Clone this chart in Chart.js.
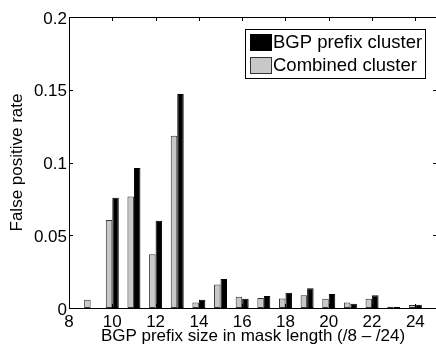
<!DOCTYPE html>
<html>
<head>
<meta charset="utf-8">
<script src="https://cdn.jsdelivr.net/npm/chart.js@4/dist/chart.umd.min.js"></script>
<style>
  html, body { margin: 0; padding: 0; background: #fff; }
  #wrap { width: 436px; height: 347px; overflow: hidden; }
  canvas { display: block; }
</style>
</head>
<body>
<div id="wrap"><canvas id="chart" width="441" height="347"></canvas></div>
<script>
// mask lengths (/9 .. /24)
var maskSizes = [9, 10, 11, 12, 13, 14, 15, 16, 17, 18, 19, 20, 21, 22, 23, 24];
var combinedRate = [0.0057, 0.0604, 0.0767, 0.037, 0.1183, 0.0037, 0.0162, 0.0078,
                    0.0069, 0.0066, 0.0087, 0.0064, 0.0037, 0.0064, 0.0009, 0.002];
var bgpRate = [null, 0.0757, 0.0963, 0.060, 0.147, 0.0057, 0.0199, 0.0064,
               0.0082, 0.0105, 0.0135, 0.0096, 0.003, 0.0087, 0.0007, 0.0023];
var xTicks = [8, 10, 12, 14, 16, 18, 20, 22, 24];
var yTicks = [0, 0.05, 0.1, 0.15, 0.2];
var yTickLabels = ['0', '0.05', '0.1', '0.15', '0.2'];

var FONT = '"Liberation Sans", Arial, Helvetica, sans-serif';

function points(vals) {
    return maskSizes.map(function (s, i) { return { x: s, y: vals[i] }; });
}

// box around the axes with short inward ticks on all four sides
var frame = {
    id: 'frame',
    afterDatasetsDraw: function (chart) {
        var c = chart.ctx, a = chart.chartArea;
        var xs = chart.scales.x, ys = chart.scales.y;
        var len = 4;
        c.save();
        c.strokeStyle = '#000';
        c.lineWidth = 1;
        c.beginPath();
        c.rect(Math.round(a.left) + 0.5, Math.round(a.top) + 0.5,
               Math.round(a.right - a.left), Math.round(a.bottom - a.top));
        xTicks.forEach(function (v) {
            var px = Math.round(xs.getPixelForValue(v)) + 0.5;
            c.moveTo(px, a.bottom); c.lineTo(px, a.bottom - len);
            c.moveTo(px, a.top); c.lineTo(px, a.top + len);
        });
        yTicks.forEach(function (v) {
            var py = Math.round(ys.getPixelForValue(v)) + 0.5;
            c.moveTo(a.left, py); c.lineTo(a.left + len, py);
            c.moveTo(a.right, py); c.lineTo(a.right - len, py);
        });
        c.stroke();
        c.restore();
    }
};

// boxed legend, last dataset listed first
var boxLegend = {
    id: 'boxLegend',
    afterDraw: function (chart) {
        var c = chart.ctx;
        var sets = chart.data.datasets.slice().reverse();
        var x = 245, y = 29, w = 180, h = 49;
        c.save();
        c.fillStyle = '#fff';
        c.fillRect(x, y, w, h);
        c.strokeStyle = '#000';
        c.lineWidth = 1;
        c.strokeRect(x + 0.5, y + 0.5, w, h);
        c.font = '18.5px ' + FONT;
        c.textBaseline = 'middle';
        sets.forEach(function (ds, i) {
            var sy = y + 5 + i * 23;
            c.fillStyle = ds.backgroundColor;
            c.fillRect(x + 5, sy, 22, 17);
            c.strokeStyle = ds.borderColor;
            c.strokeRect(x + 5.5, sy + 0.5, 21, 16);
            c.fillStyle = '#000';
            c.fillText(ds.label, x + 28, sy + 9);
        });
        c.restore();
    }
};

new Chart(document.getElementById('chart'), {
    type: 'bar',
    data: {
        datasets: [{
            label: 'Combined cluster',
            data: points(combinedRate),
            backgroundColor: '#c8c8c8',
            borderColor: '#333',
            borderWidth: 1,
            borderSkipped: false
        }, {
            label: 'BGP prefix cluster',
            data: points(bgpRate),
            backgroundColor: '#000',
            borderColor: '#000',
            borderWidth: 1,
            borderSkipped: false
        }]
    },
    options: {
        responsive: false,
        animation: false,
        events: [],
        categoryPercentage: 0.6,
        barPercentage: 1.0,
        layout: { padding: { left: 0, right: 4, top: 17, bottom: 0 } },
        plugins: {
            legend: { display: false },
            tooltip: { enabled: false }
        },
        scales: {
            x: {
                type: 'linear',
                min: 8,
                max: 25,
                offset: false,
                grid: { display: false, drawTicks: false, offset: false },
                border: { display: false },
                afterBuildTicks: function (s) {
                    s.ticks = xTicks.map(function (v) { return { value: v }; });
                },
                afterFit: function (s) { s.height = 39; },
                ticks: {
                    color: '#000',
                    padding: 4,
                    maxRotation: 0,
                    font: { family: FONT, size: 17 },
                    callback: function (v) { return String(v); }
                },
                title: {
                    display: true,
                    text: 'BGP prefix size in mask length (/8 \u2013 /24)',
                    color: '#000',
                    padding: 0,
                    font: { family: FONT, size: 17 }
                }
            },
            y: {
                min: 0,
                max: 0.2,
                grid: { display: false, drawTicks: false },
                border: { display: false },
                afterBuildTicks: function (s) {
                    s.ticks = yTicks.map(function (v) { return { value: v }; });
                },
                afterFit: function (s) { s.width = 69; },
                ticks: {
                    color: '#000',
                    padding: 2,
                    labelOffset: 2,
                    font: { family: FONT, size: 17 },
                    callback: function (v) {
                        return yTickLabels[yTicks.indexOf(v)];
                    }
                },
                title: {
                    display: true,
                    text: 'False positive rate',
                    color: '#000',
                    padding: { top: 7, bottom: 0 },
                    font: { family: FONT, size: 17 }
                }
            }
        }
    },
    plugins: [frame, boxLegend]
});
</script>
</body>
</html>
